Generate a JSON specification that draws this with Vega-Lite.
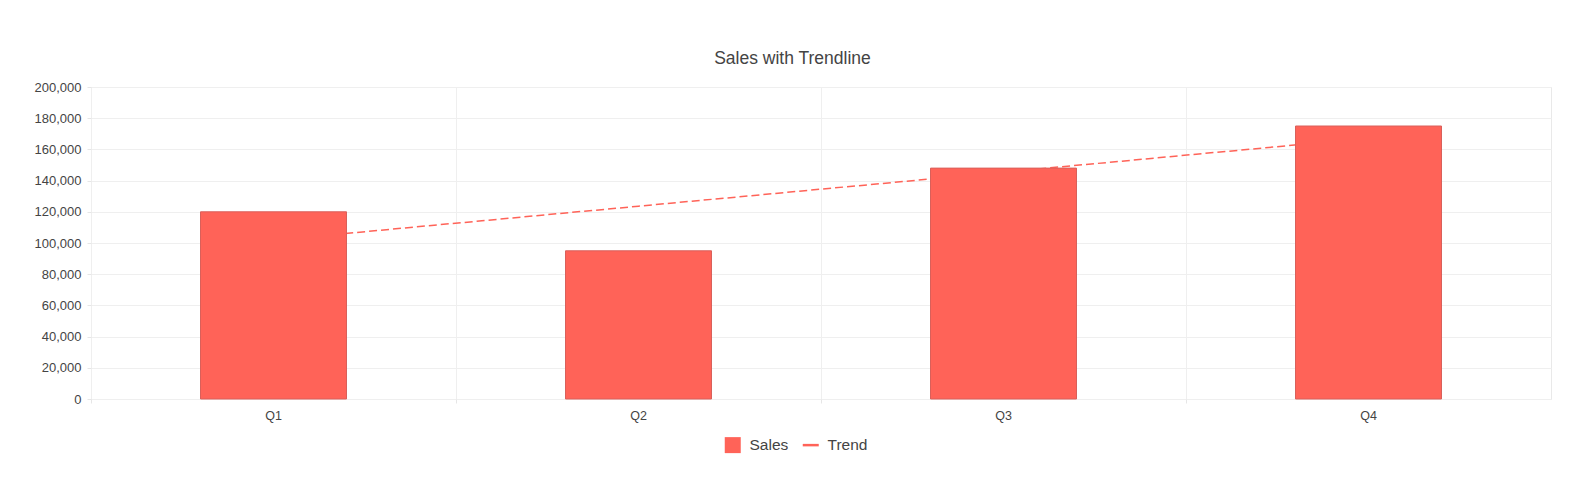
{
  "$schema": "https://vega.github.io/schema/vega-lite/v6.json",
  "autosize": "none",
  "width": 1460,
  "height": 312,
  "padding": {"left": 91, "top": 87, "right": 40, "bottom": 103},
  "background": "white",
  "title": {
    "text": "Sales with Trendline",
    "font": "Liberation Sans",
    "fontSize": 17.5,
    "fontWeight": "normal",
    "color": "#444",
    "anchor": "middle",
    "frame": "bounds",
    "offset": 14
  },
  "data": {
    "values": [
      {"quarter": "Q1", "sales": 120000, "trend": 101800},
      {"quarter": "Q2", "sales": 95000, "trend": 123600},
      {"quarter": "Q3", "sales": 148000, "trend": 145400},
      {"quarter": "Q4", "sales": 175000, "trend": 167200}
    ]
  },
  "encoding": {
    "x": {
      "field": "quarter",
      "type": "nominal",
      "sort": null,
      "scale": {"paddingInner": 0, "paddingOuter": 0},
      "axis": {
        "title": null,
        "labelAngle": 0,
        "bandPosition": 0,
        "grid": true,
        "domain": false,
        "tickSize": 4,
        "labelPadding": 6
      }
    }
  },
  "layer": [
    {
      "mark": {"type": "line", "strokeWidth": 1.5, "strokeDash": [8, 4]},
      "encoding": {
        "y": {
          "field": "trend",
          "type": "quantitative",
          "scale": {"domain": [0, 200000]},
          "axis": {"title": null, "format": ",d"}
        },
        "color": {
          "datum": "Trend",
          "scale": {"domain": ["Sales", "Trend"]},
          "legend": {
            "symbolType": "square",
            "encode": {
              "symbols": {
                "update": {
                  "shape": {"signal": "datum.value === 'Sales' ? 'square' : 'stroke'"},
                  "fill": {"signal": "datum.value === 'Sales' ? '#ff6358' : 'transparent'"},
                  "stroke": {"value": "#ff6358"},
                  "strokeWidth": {"signal": "datum.value === 'Sales' ? 0 : 2.5"},
                  "strokeDash": {"value": []},
                  "size": {"value": 256},
                  "opacity": {"value": 1}
                }
              }
            }
          }
        }
      }
    },
    {
      "mark": {"type": "bar", "width": {"band": 0.4}, "stroke": "#d9605a", "strokeWidth": 1},
      "encoding": {
        "y": {
          "field": "sales",
          "type": "quantitative",
          "scale": {"domain": [0, 200000]},
          "axis": {"title": null, "format": ",d"}
        },
        "color": {
          "datum": "Sales",
          "scale": {"domain": ["Sales", "Trend"]},
          "legend": {
            "symbolType": "square",
            "encode": {
              "symbols": {
                "update": {
                  "shape": {"signal": "datum.value === 'Sales' ? 'square' : 'stroke'"},
                  "fill": {"signal": "datum.value === 'Sales' ? '#ff6358' : 'transparent'"},
                  "stroke": {"value": "#ff6358"},
                  "strokeWidth": {"signal": "datum.value === 'Sales' ? 0 : 2.5"},
                  "strokeDash": {"value": []},
                  "size": {"value": 256},
                  "opacity": {"value": 1}
                }
              }
            }
          }
        }
      }
    }
  ],
  "config": {
    "view": {"stroke": "#e9e9e9"},
    "axis": {
      "labelFont": "Liberation Sans",
      "labelFontSize": 13,
      "labelColor": "#444",
      "gridColor": "#efefef",
      "tickColor": "#e6e6e6"
    },
    "axisX": {"labelFontSize": 12.5},
    "axisY": {
      "values": [0, 20000, 40000, 60000, 80000, 100000, 120000, 140000, 160000, 180000, 200000],
      "labelOverlap": false,
      "domain": false,
      "tickSize": 4,
      "labelPadding": 6
    },
    "range": {"category": ["#ff6358", "#ff6358"]},
    "legend": {
      "orient": "none",
      "direction": "horizontal",
      "legendX": 634,
      "legendY": 350,
      "title": null,
      "labelFont": "Liberation Sans",
      "labelFontSize": 15.5,
      "labelColor": "#444",
      "labelOffset": 9,
      "columnPadding": 8,
      "symbolSize": 256,
      "symbolOpacity": 1
    }
  }
}
